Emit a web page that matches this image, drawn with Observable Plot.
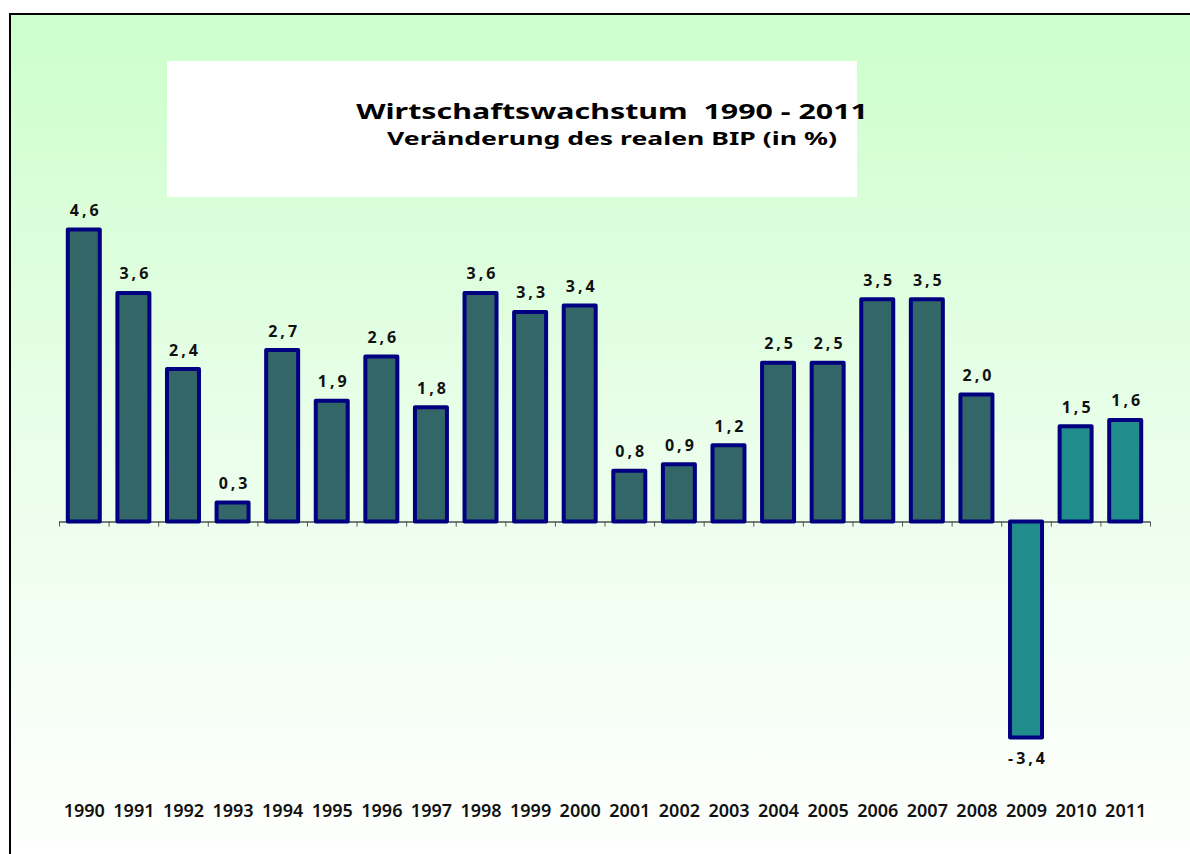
<!DOCTYPE html>
<html>
<head>
<meta charset="utf-8">
<script src="https://cdn.jsdelivr.net/npm/d3@7"></script>
<script src="https://cdn.jsdelivr.net/npm/@observablehq/plot@0.6"></script>
<style>
  html, body { margin: 0; padding: 0; background: #ffffff; overflow: hidden; }
  body { width: 1190px; height: 854px; position: relative; font-family: "Noto Sans", sans-serif; }
  #frame { position: absolute; left: 9px; top: 13px; width: 1200px; height: 860px;
    border-left: 2px solid #000; border-top: 2px solid #000;
    background: linear-gradient(to bottom, #ccffcc 0%, #eafeea 50%, #ffffff 100%); }
  #titlebox { position: absolute; left: 167px; top: 61px; width: 690px; height: 136px; background: #ffffff; }
  .t { position: absolute; left: 312px; width: 600px; text-align: center; font-weight: bold; color: #000;
       white-space: pre; transform-origin: 300px 50%; }
  #title { top: 99px; font-size: 22px; line-height: 22px; transform: scaleX(1.38); }
  #subtitle { top: 129px; font-size: 17.5px; line-height: 18px; transform: scaleX(1.52); }
  #chart { position: absolute; left: 0; top: 0; width: 1190px; }
  #chart svg { display: block; }
  .vals text { letter-spacing: 3px; }
</style>
</head>
<body>
<div id="frame"></div>
<div id="titlebox"></div>
<div class="t" id="title">Wirtschaftswachstum  1990 - 2011</div>
<div class="t" id="subtitle">Veränderung des realen BIP (in %)</div>
<div id="chart"></div>
<script>
const years = ["1990","1991","1992","1993","1994","1995","1996","1997","1998","1999","2000","2001","2002","2003","2004","2005","2006","2007","2008","2009","2010","2011"];
const growth = [4.6, 3.6, 2.4, 0.3, 2.7, 1.9, 2.6, 1.8, 3.6, 3.3, 3.4, 0.8, 0.9, 1.2, 2.5, 2.5, 3.5, 3.5, 2.0, -3.4, 1.5, 1.6];
const highlighted = ["2009", "2010", "2011"];

const data = years.map((y, i) => ({year: y, value: growth[i], hl: highlighted.includes(y)}));

const W = 1190, H = 854;
const mL = 59, mR = 40;
const step = (W - mL - mR) / years.length;
const fmt = v => v.toFixed(1).replace(".", ",");

const chart = Plot.plot({
  width: W,
  height: H,
  marginLeft: mL,
  marginRight: mR,
  marginTop: 204,
  marginBottom: 78.5,
  style: {background: "transparent", overflow: "visible"},
  x: {type: "band", domain: years, padding: 0, round: false, label: null},
  y: {domain: [-4, 5], axis: null},
  marks: [
    Plot.ruleY([0], {stroke: "#000", strokeWidth: 1}),
    Plot.ruleX(years, {x: d => d, y1: 0, y2: -0.08, dx: -step / 2, stroke: "#555"}),
    Plot.ruleX(years.slice(-1), {x: d => d, y1: 0, y2: -0.08, dx: step / 2, stroke: "#555"}),
    Plot.barY(data, {
      x: "year", y: "value",
      fill: d => d.hl ? "#218c8c" : "#336666",
      stroke: "#000080", strokeWidth: 4, strokeLinejoin: "round",
      insetLeft: 8.8, insetRight: 8.8
    }),
    Plot.text(data.filter(d => d.value >= 0), {
      x: "year", y: "value", text: d => fmt(d.value),
      lineAnchor: "bottom", dy: -14, dx: 1.5,
      fontSize: 16, fontWeight: "bold", fontFamily: "Noto Sans", fill: "#111",
      className: "vals"
    }),
    Plot.text(data.filter(d => d.value < 0), {
      x: "year", y: "value", text: d => fmt(d.value),
      lineAnchor: "top", dy: 15, dx: 1.5,
      fontSize: 16, fontWeight: "bold", fontFamily: "Noto Sans", fill: "#111",
      className: "vals"
    }),
    Plot.axisX({
      anchor: "bottom", tickSize: 0, tickPadding: 28, label: null,
      fontSize: 18, fontWeight: 600, fontFamily: "Noto Sans", fill: "#111"
    })
  ]
});
document.getElementById("chart").appendChild(chart);
</script>
</body>
</html>
